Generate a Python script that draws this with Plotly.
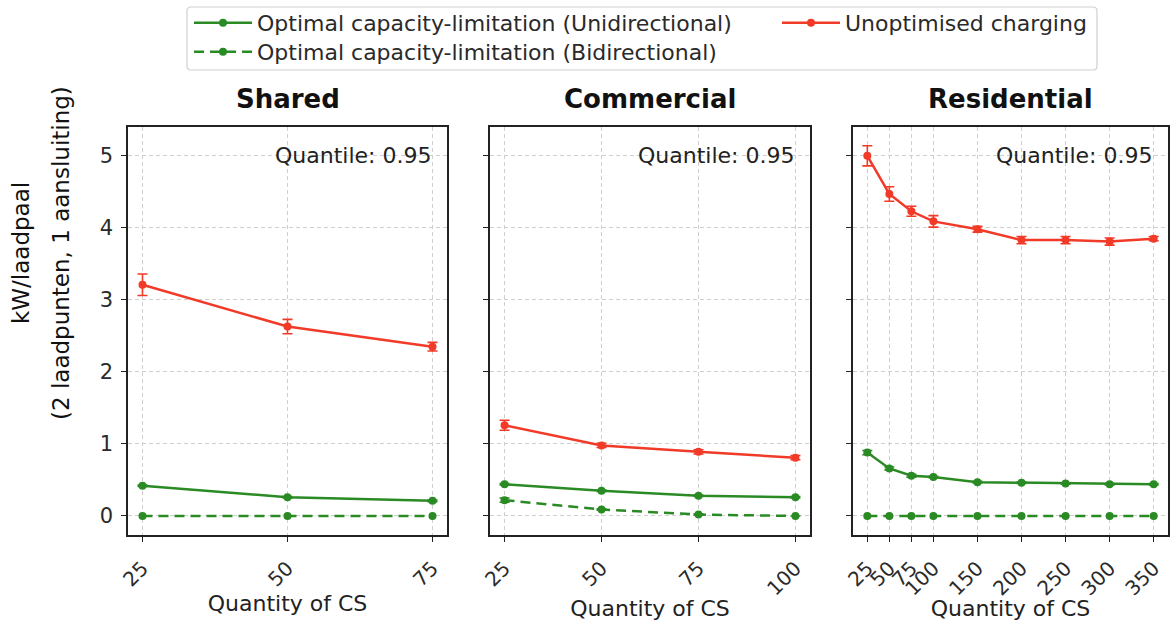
import plotly.graph_objects as go

# ---- data -------------------------------------------------------------
shared_x = [25, 50, 75]
shared_unopt = [3.21, 2.63, 2.35]
shared_unopt_err = [0.15, 0.10, 0.06]
shared_uni = [0.42, 0.26, 0.21]
shared_uni_err = [0.01, 0.01, 0.01]
shared_bi = [0.0, 0.0, 0.0]

commercial_x = [25, 50, 75, 100]
commercial_unopt = [1.26, 0.98, 0.89, 0.81]
commercial_unopt_err = [0.07, 0.03, 0.03, 0.03]
commercial_uni = [0.44, 0.35, 0.28, 0.26]
commercial_uni_err = [0.01, 0.01, 0.01, 0.01]
commercial_bi = [0.22, 0.09, 0.02, 0.0]
commercial_bi_err = [0.03, 0.01, 0.01, 0.0]

residential_x = [25, 50, 75, 100, 150, 200, 250, 300, 350]
residential_unopt = [5.00, 4.47, 4.23, 4.09, 3.98, 3.83, 3.83, 3.81, 3.85]
residential_unopt_err = [0.14, 0.10, 0.07, 0.08, 0.04, 0.05, 0.05, 0.05, 0.03]
residential_uni = [0.88, 0.66, 0.56, 0.54, 0.47, 0.46, 0.45, 0.44, 0.44]
residential_uni_err = [0.03, 0.02, 0.02, 0.01, 0.01, 0.01, 0.01, 0.01, 0.01]
residential_bi = [0.0] * 9

panel_titles = ["Shared", "Commercial", "Residential"]
x_ticks = [[25, 50, 75], [25, 50, 75, 100],
           [25, 50, 75, 100, 150, 200, 250, 300, 350]]
y_ticks = [0, 1, 2, 3, 4, 5]

name_uni = "Optimal capacity-limitation (Unidirectional)"
name_bi = "Optimal capacity-limitation (Bidirectional)"
name_unopt = "Unoptimised charging"

RED = "#f23a28"
GREEN = "#2a8a24"
FONT = "DejaVu Sans"
W, H = 1172, 621

panels = [
    (shared_x, shared_uni, shared_uni_err, shared_bi, None, shared_unopt, shared_unopt_err),
    (commercial_x, commercial_uni, commercial_uni_err, commercial_bi, commercial_bi_err,
     commercial_unopt, commercial_unopt_err),
    (residential_x, residential_uni, residential_uni_err, residential_bi, None,
     residential_unopt, residential_unopt_err),
]

# pixel extents of each panel
x_px = [(128, 447), (490, 810), (853, 1168)]
y_px = (127, 535)
x_ranges = [[22.5, 77.5], [21.25, 103.75], [8.75, 366.25]]
y_range = [-0.264, 5.40]


def px_x(p):
    return p / W


def px_y(p):
    return 1 - p / H


fig = go.Figure()


def err(vals, color):
    if vals is None:
        return None
    return dict(type="data", array=vals, visible=True, color=color,
                thickness=1.6, width=5)


for i, (xs, uni, uni_e, bi, bi_e, unopt, unopt_e) in enumerate(panels):
    ax = "" if i == 0 else str(i + 1)
    xa, ya = "x" + ax, "y" + ax
    first = i == 0
    fig.add_trace(go.Scatter(
        x=xs, y=uni, name=name_uni, mode="lines+markers", xaxis=xa, yaxis=ya,
        line=dict(color=GREEN, width=2.5), marker=dict(size=8, color=GREEN),
        error_y=err(uni_e, GREEN), showlegend=first, legend="legend"))
    fig.add_trace(go.Scatter(
        x=xs, y=bi, name=name_bi, mode="lines+markers", xaxis=xa, yaxis=ya,
        line=dict(color=GREEN, width=2.5, dash="10px,6px"),
        marker=dict(size=8, color=GREEN),
        error_y=err(bi_e, GREEN), showlegend=first, legend="legend3"))
    fig.add_trace(go.Scatter(
        x=xs, y=unopt, name=name_unopt, mode="lines+markers", xaxis=xa, yaxis=ya,
        line=dict(color=RED, width=2.5), marker=dict(size=8, color=RED),
        error_y=err(unopt_e, RED), showlegend=first, legend="legend2"))

axis_common = dict(
    showline=True, mirror=True, linecolor="#222", linewidth=1.5,
    ticks="outside", ticklen=5, tickcolor="#222", tickwidth=1.2,
    showgrid=True, gridcolor="#cfcfcf", gridwidth=1, griddash="4px,3px",
    zeroline=False, automargin=False,
)

legend_font = dict(family=FONT, size=22, color="#2a2a2a")
legend_common = dict(
    orientation="v", xanchor="left", yanchor="top",
    bgcolor="rgba(0,0,0,0)", borderwidth=0, font=legend_font,
    itemwidth=58, traceorder="normal",
)

layout = dict(
    width=W, height=H,
    margin=dict(l=0, r=0, t=0, b=0),
    paper_bgcolor="white", plot_bgcolor="white",
    font=dict(family=FONT, color="#222"),
    showlegend=True,
    legend=dict(legend_common, x=px_x(189), y=px_y(2)),
    legend2=dict(legend_common, x=px_x(777), y=px_y(2)),
    legend3=dict(legend_common, x=px_x(189), y=px_y(31)),
)

# rounded frame around the legend entries
bx0, bx1, by0, by1, r = 187, 1097, 7, 70, 4
frame = ("M {a},{b} L {c},{b} Q {d},{b} {d},{e} L {d},{f} Q {d},{g} {c},{g} "
         "L {a},{g} Q {h},{g} {h},{f} L {h},{e} Q {h},{b} {a},{b} Z").format(
    a=px_x(bx0 + r), b=px_y(by0), c=px_x(bx1 - r), d=px_x(bx1), e=px_y(by0 + r),
    f=px_y(by1 - r), g=px_y(by1), h=px_x(bx0))
layout["shapes"] = [dict(type="path", path=frame, xref="paper", yref="paper",
                         line=dict(color="#d0d0d0", width=1.2),
                         fillcolor="white", layer="below")]

ydom = [px_y(y_px[1]), px_y(y_px[0])]
annotations = []
for i in range(3):
    ax = "" if i == 0 else str(i + 1)
    xdom = [px_x(x_px[i][0]), px_x(x_px[i][1])]
    layout["xaxis" + ax] = dict(
        axis_common, domain=xdom, range=x_ranges[i], anchor="y" + ax,
        tickvals=x_ticks[i], ticktext=[str(v) for v in x_ticks[i]], tickangle=-45,
        tickfont=dict(family=FONT, size=20, color="#2a2a2a"), ticklabelstandoff=7,
        title=dict(text="Quantity of CS", font=dict(family=FONT, size=22, color="#222"),
                   standoff=2),
    )
    layout["yaxis" + ax] = dict(
        axis_common, domain=ydom, range=y_range, anchor="x" + ax,
        tickvals=y_ticks, showticklabels=(i == 0),
        tickfont=dict(family=FONT, size=21, color="#2a2a2a"), ticklabelstandoff=4,
    )
    annotations.append(dict(
        text="<b>%s</b>" % panel_titles[i], xref="paper", yref="paper",
        x=(xdom[0] + xdom[1]) / 2, y=px_y(99), xanchor="center", yanchor="middle",
        showarrow=False, font=dict(family=FONT, size=26, color="#111")))
    annotations.append(dict(
        text="Quantile: 0.95", xref="x%s domain" % ax, yref="y" + ax,
        x=0.955, y=5, xanchor="right", yanchor="middle", showarrow=False,
        font=dict(family=FONT, size=22, color="#222")))

# two-line y-axis label
for txt, xc in [("kW/laadpaal", 21), ("(2 laadpunten, 1 aansluiting)", 61)]:
    annotations.append(dict(
        text=txt, xref="paper", yref="paper", x=px_x(xc), y=px_y(253),
        xanchor="center", yanchor="middle", textangle=-90, showarrow=False,
        font=dict(family=FONT, size=23, color="#111")))

layout["annotations"] = annotations
fig.update_layout(**layout)
fig.write_html("out.html")
